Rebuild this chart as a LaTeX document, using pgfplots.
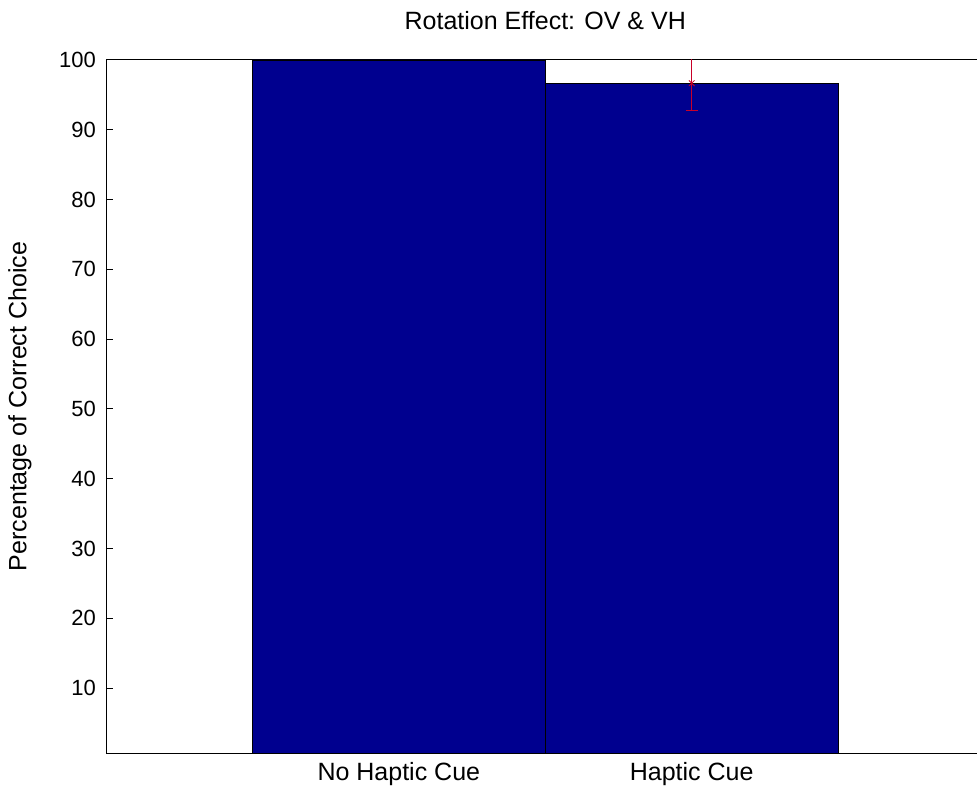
\documentclass[border=0pt]{standalone}
\usepackage{fontspec}
\setmainfont{Liberation Sans}
\usepackage{pgfplots}
\pgfplotsset{compat=1.18}
\definecolor{barnavy}{RGB}{0,0,143}
\definecolor{errred}{RGB}{200,0,40}
\begin{document}
\begin{tikzpicture}[x=1pt,y=1pt]
\begin{axis}[
  at={(53pt,19.5pt)}, anchor=south west,
  scale only axis, width=439.25pt, height=346.5pt,
  xmin=0, xmax=3, ymin=0.7, ymax=100,
  xtick={1,2}, xticklabels={No Haptic Cue, Haptic Cue},
  ytick={10,20,...,100},
  tick align=inside, major tick length=3.5pt,
  tick style={black, line width=0.5pt},
  axis line style={black, line width=0.5pt},
  font=\fontsize{11}{13}\selectfont,
  /pgf/number format/assume math mode=true,
  yticklabel style={xshift=-1.5pt},
  xticklabel style={yshift=-1pt, font=\fontsize{12.5}{14}\selectfont},
  title={Rotation Effect: OV \& VH},
  title style={at={(axis description cs:0.5,1)}, anchor=base, yshift=9pt, font=\fontsize{12.5}{14}\selectfont},
  ylabel={Percentage of Correct Choice},
  ylabel style={at={(axis description cs:0,0.5)}, anchor=center, yshift=43pt, font=\fontsize{12.5}{14}\selectfont},
  clip=true,
]
\addplot[ybar, bar width=1, bar shift=0, fill=barnavy, draw=black, line width=0.4pt]
  coordinates {(1,100) (2,96.67)};
\addplot[errred, only marks, mark=x, mark size=2pt,
  error bars/.cd, y dir=both, y explicit,
  error bar style={errred, line width=0.8pt}, error mark options={errred, mark size=3pt, rotate=90}]
  coordinates {(2,96.67) +- (0,3.85)};
\end{axis}
\pgfresetboundingbox
\path (0,0) rectangle (488.5pt,396pt);
\end{tikzpicture}
\end{document}
